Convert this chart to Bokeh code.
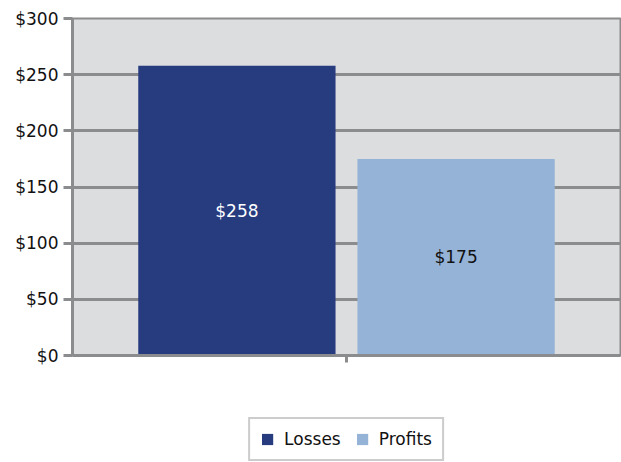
from bokeh.plotting import figure
from bokeh.layouts import column
from bokeh.models import (ColumnDataSource, FactorRange, Range1d, Legend, LegendItem,
                          NumeralTickFormatter, FixedTicker)
from bokeh.transform import dodge
from bokeh.core.properties import value
from bokeh.embed import file_html
from bokeh.resources import INLINE

# data
group = ["Total"]
series = ["Losses", "Profits"]
amounts = [258, 175]
labels = ["$258", "$175"]
colors = ["#273b7f", "#95b3d7"]
label_colors = ["#ffffff", "#111111"]
y_ticks = [0, 50, 100, 150, 200, 250, 300]

FONT = "DejaVu Sans"
GRID = "#8b8c8e"

xr = FactorRange(factors=group, range_padding=0)
p = figure(width=621, height=385, output_backend="svg", toolbar_location=None,
           x_range=xr, y_range=Range1d(0, 300),
           min_border_left=72, min_border_right=1, min_border_top=18, min_border_bottom=30)
p.background_fill_color = "#dcdddf"
p.border_fill_color = "white"
p.outline_line_color = GRID
p.outline_line_width = 2

# legend holder (below the chart)
q = figure(width=621, height=77, output_backend="svg", toolbar_location=None,
           x_range=xr, y_range=Range1d(1000, 1001),
           x_axis_location=None, y_axis_location=None,
           min_border_left=72, min_border_right=1, min_border_top=0, min_border_bottom=0)
q.grid.visible = False
q.outline_line_color = None
q.background_fill_color = "white"
q.border_fill_color = "white"

offsets = [-0.2, 0.2]
items = []
for i, name in enumerate(series):
    src = ColumnDataSource(dict(x=group, top=[amounts[i]], mid=[amounts[i] / 2], lab=[labels[i]]))
    p.vbar(x=dodge("x", offsets[i], range=xr), top="top", bottom=0, width=0.36,
           source=src, fill_color=colors[i], line_color=None)
    p.text(x=dodge("x", offsets[i], range=xr), y="mid", text="lab", source=src,
           text_align="center", text_baseline="middle", text_color=label_colors[i],
           text_font=value(FONT), text_font_size="17px")
    r = q.vbar(x=dodge("x", offsets[i], range=xr), top="top", bottom=0, width=0.36,
               source=src, fill_color=colors[i], line_color=None)
    items.append(LegendItem(label=name, renderers=[r]))

# axes
p.yaxis.ticker = FixedTicker(ticks=y_ticks)
p.yaxis.formatter = NumeralTickFormatter(format="$0")
p.yaxis.major_label_text_font = FONT
p.yaxis.major_label_text_font_size = "17px"
p.yaxis.major_label_text_color = "#111111"
p.yaxis.major_tick_out = 9
p.yaxis.major_tick_in = 0
p.yaxis.minor_tick_line_color = None
p.yaxis.major_label_standoff = 5
for ax in (p.yaxis, p.xaxis):
    ax.axis_line_color = GRID
    ax.axis_line_width = 3
    ax.major_tick_line_color = GRID
    ax.major_tick_line_width = 3

p.xaxis.major_label_text_color = None
p.xaxis.major_label_text_font_size = "8px"
p.xaxis.major_tick_out = 7
p.xaxis.major_tick_in = 0

p.xgrid.grid_line_color = None
p.ygrid.ticker = FixedTicker(ticks=y_ticks)
p.ygrid.grid_line_color = GRID
p.ygrid.grid_line_width = 3

legend = Legend(items=items, orientation="horizontal", location="bottom_center",
                glyph_width=14, glyph_height=14, label_height=14,
                padding=10, spacing=14, label_standoff=10, margin=1,
                label_text_font=FONT, label_text_font_size="17px", label_text_color="#111111",
                border_line_color="#9a9a9a", border_line_width=2,
                background_fill_color="white", background_fill_alpha=1)
q.add_layout(legend, "center")

layout = column(p, q, spacing=0)
open("out.html", "w").write(file_html(layout, INLINE))
